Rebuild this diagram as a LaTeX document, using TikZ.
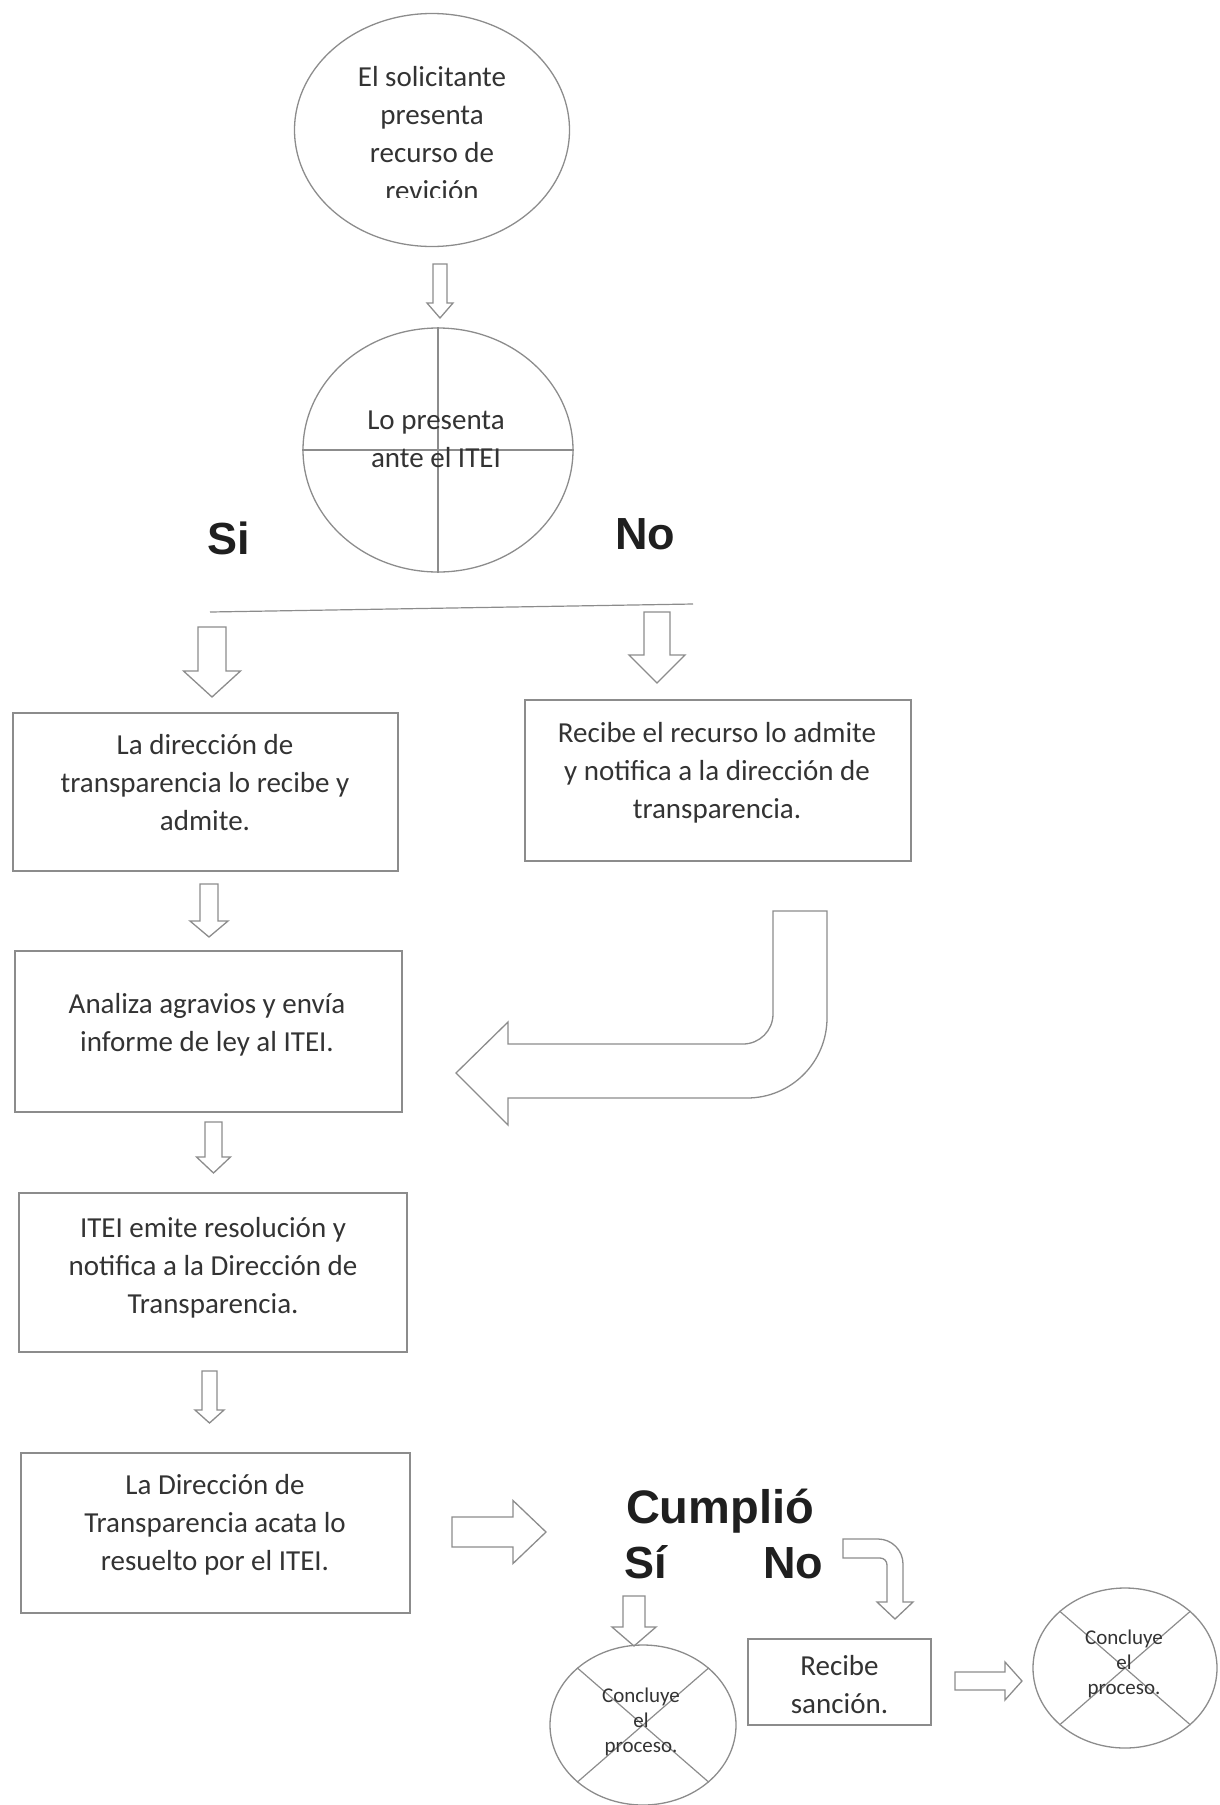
\documentclass[tikz,border=0pt]{standalone}
\usepackage{fontspec}
\setmainfont{Carlito}
\newfontfamily\boldsans{Liberation Sans}
\usetikzlibrary{shapes.geometric}
\definecolor{ln}{gray}{0.55}
\definecolor{tx}{gray}{0.2}
\newcommand\DownBlock[6]{% cx, top, shaft half, head half, base, tip
  \draw[blk] (#1-#3,#2) -- (#1+#3,#2) -- (#1+#3,#5) -- (#1+#4,#5) -- (#1,#6) -- (#1-#4,#5) -- (#1-#3,#5) -- cycle;}
\newcommand\RightBlock[6]{% left, cy, shaft half, head half, base, tip
  \draw[blk] (#1,#2-#3) -- (#5,#2-#3) -- (#5,#2-#4) -- (#6,#2) -- (#5,#2+#4) -- (#5,#2+#3) -- (#1,#2+#3) -- cycle;}
\begin{document}
\begin{tikzpicture}[x=1pt,y=-1pt,
  shapeln/.style={draw=ln, line width=1.3pt},
  box/.style={shapeln, rectangle, inner sep=0pt},
  oval/.style={shapeln, ellipse, inner sep=0pt},
  txt/.style={text=tx, font=\fontsize{29}{38}\selectfont, align=center, anchor=base, inner sep=0pt},
  small/.style={text=tx, font=\fontsize{21}{25}\selectfont, align=center, anchor=base, inner sep=0pt},
  big/.style={text=black!88, font=\boldsans\bfseries\fontsize{45}{50}\selectfont, anchor=base, inner sep=0pt},
  blk/.style={draw=ln, line width=1.3pt, line join=miter},
  thin/.style={draw=ln, line width=1.2pt}]
\useasboundingbox (0,0) rectangle (1219,1805);

% top ellipse
\node[oval, minimum width=275pt, minimum height=233pt] (e1) at (432,130) {};
\begin{scope}
  \clip (0,0) rectangle (1219,197);
  \node[txt] (t1) at (432,200) {El solicitante\\presenta\\recurso de\\revición};
\end{scope}

% second ellipse with cross
\node[oval, minimum width=270pt, minimum height=244pt] (e2) at (438,450) {};
\draw[thin] (e2.north) -- (e2.south);
\draw[thin] (e2.west) -- (e2.east);
\node[txt] (t2) at (436,467) {Lo presenta\\ante el ITEI};

\DownBlock{440}{264}{7}{13}{303}{318}

\node[big] (si1) at (229,554) {Si};
\node[big] (no1) at (645,549) {No};

\coordinate (hl) at (210,612);
\coordinate (hr) at (693,604);
\draw[thin] (hl) -- (hr);

\DownBlock{212}{627}{14}{28.5}{671}{697}
\DownBlock{657}{612}{13}{28}{655}{683}

% boxes
\node[box, minimum width=385pt, minimum height=158pt] (b1) at (205.5,792) {};
\node[txt] (tb1) at (205,830) {La dirección de\\transparencia lo recibe y\\admite.};

\node[box, minimum width=386pt, minimum height=161pt] (b2) at (718,780.5) {};
\node[txt] (tb2) at (717,818) {Recibe el recurso lo admite\\y notifica a la dirección de\\transparencia.};

\DownBlock{209}{884}{9}{19}{921}{937}

\node[box, minimum width=387pt, minimum height=161pt] (b3) at (208.5,1031.5) {};
\node[txt] (tb3) at (207,1051) {Analiza agravios y envía\\informe de ley al ITEI.};

% big bent arrow
\draw[blk] (773,911) -- (827,911) -- (827,1018)
  .. controls (827,1062.2) and (791.2,1098) .. (747,1098)
  -- (508,1098) -- (508,1125) -- (456,1073) -- (508,1022) -- (508,1044)
  -- (743,1044) .. controls (759.6,1044) and (773,1030.6) .. (773,1014) -- cycle;

\DownBlock{213.5}{1122}{8.5}{17}{1157}{1173}

\node[box, minimum width=388pt, minimum height=159pt] (b4) at (213,1272.5) {};
\node[txt] (tb4) at (213,1313) {ITEI emite resolución y\\notifica a la Dirección de\\Transparencia.};

\DownBlock{209.5}{1371}{7.5}{14.5}{1410}{1423}

\node[box, minimum width=389pt, minimum height=160pt] (b5) at (215.5,1533) {};
\node[txt] (tb5) at (215,1570) {La Dirección de\\Transparencia acata lo\\resuelto por el ITEI.};

\RightBlock{452}{1532}{15}{31.5}{513}{546}

\node[big, font=\boldsans\bfseries\fontsize{47}{52}\selectfont] (cu) at (720,1523) {Cumplió};
\node[big] (si2) at (645.5,1578) {Sí};
\node[big] (no2) at (793,1578) {No};

\DownBlock{634}{1596}{11}{22}{1627}{1646}

% small bent arrow
\draw[blk] (843,1539) -- (878,1539) .. controls (891.8,1539) and (903,1550.2) .. (903,1564)
  -- (903,1602) -- (913,1602) -- (895,1619) -- (877,1602) -- (887,1602) -- (887,1565)
  .. controls (887,1561) and (884,1558) .. (880,1558) -- (843,1558) -- cycle;

% left end circle
\node[oval, minimum width=186pt, minimum height=160pt] (c1) at (643,1725) {};
\draw[thin] (c1.139) -- (c1.-41);
\draw[thin] (c1.41) -- (c1.-139);
\node[small] (tc1) at (641,1752) {Concluye\\el\\proceso.};

% sanction box
\node[box, minimum width=183pt, minimum height=86pt] (b6) at (839.5,1682) {};
\node[txt] (tb6) at (839.5,1713) {Recibe\\sanción.};

\RightBlock{955}{1681}{9}{19}{1005}{1022}

% right end circle
\node[oval, minimum width=184pt, minimum height=160pt] (c2) at (1125,1668) {};
\draw[thin] (c2.139) -- (c2.-41);
\draw[thin] (c2.41) -- (c2.-139);
\node[small] (tc2) at (1124,1694) {Concluye\\el\\proceso.};
\end{tikzpicture}
\end{document}
